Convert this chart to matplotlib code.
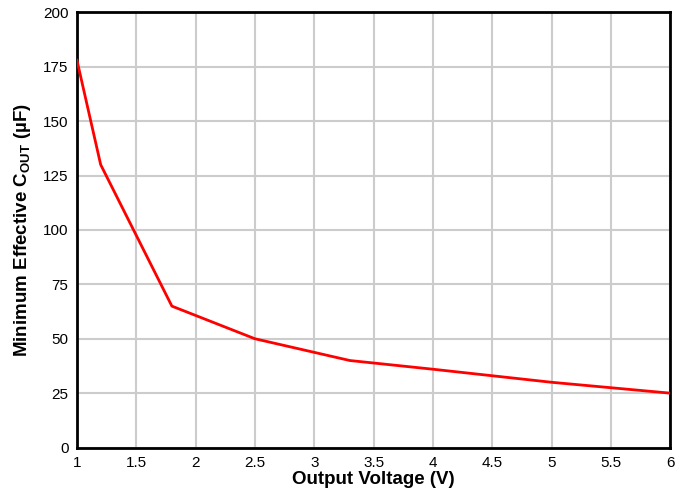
import matplotlib
matplotlib.use("Agg")
from matplotlib import pyplot as plt

# curve
voltage = [1.0, 1.2, 1.8, 2.5, 3.3, 4.0, 5.0, 6.0]
cout_min = [178, 130, 65, 50, 40, 36, 30, 25]

x_ticks = [1, 1.5, 2, 2.5, 3, 3.5, 4, 4.5, 5, 5.5, 6]
x_labels = ['1', '1.5', '2', '2.5', '3', '3.5', '4', '4.5', '5', '5.5', '6']
y_ticks = [0, 25, 50, 75, 100, 125, 150, 175, 200]

plt.rcParams['font.family'] = ['Liberation Sans', 'DejaVu Sans']
plt.rcParams['mathtext.fontset'] = 'custom'
plt.rcParams['mathtext.bf'] = 'Liberation Sans:bold'
plt.rcParams['mathtext.rm'] = 'Liberation Sans'

fig = plt.figure(figsize=(6.75, 4.94), dpi=100)
ax = fig.add_axes([0.114, 0.094, 0.879, 0.881])

ax.plot(voltage, cout_min, color='#ff0000', lw=2, zorder=3)

ax.set_xlim(1, 6)
ax.set_ylim(0, 200)
ax.set_xticks(x_ticks)
ax.set_xticklabels(x_labels)
ax.set_yticks(y_ticks)
ax.grid(True, color='#cccccc', lw=1.5)
ax.set_axisbelow(True)
ax.tick_params(length=0, labelsize=11, pad=6)

for sp in ax.spines.values():
    sp.set_linewidth(2)
    sp.set_color('black')

ax.set_xlabel('Output Voltage (V)', fontsize=13.5, fontweight='bold', labelpad=1)
ax.set_ylabel(r'Minimum Effective C$_{\mathbf{OUT}}$ (µF)', fontsize=13.5,
              fontweight='bold', labelpad=7)

fig.savefig('out.png', dpi=100)
